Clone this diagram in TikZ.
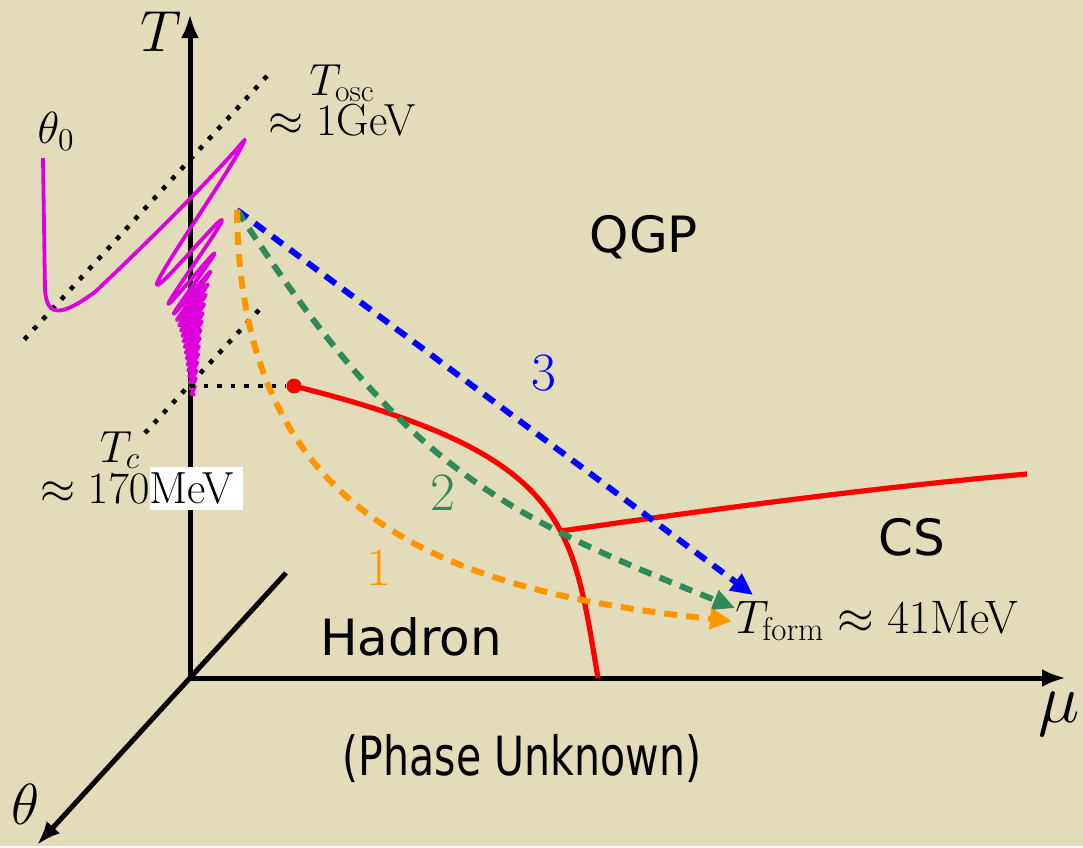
\RequirePackage{fix-cm}
\documentclass[tikz,border=0pt]{standalone}
\usepackage{fontspec}
\usepackage{graphicx}
\newfontfamily\labelfont{DejaVu Sans}
\usetikzlibrary{arrows.meta,positioning}
\definecolor{bgbeige}{RGB}{226,220,186}
\definecolor{axionmag}{RGB}{221,0,221}
\definecolor{routeorange}{RGB}{255,150,0}
\definecolor{routegreen}{RGB}{46,139,87}

\begin{document}
\begin{tikzpicture}[x=0.5pt,y=-0.5pt,
axis/.style={line width=2.5pt},
guide/.style={line width=2.3pt,dash pattern=on 2.3pt off 4.5pt},
route/.style={line width=3pt,dash pattern=on 6.5pt off 4.5pt,-{Triangle[length=11pt,width=10pt]}},
phase line/.style={red,line width=2.6pt},
region label/.style={font=\labelfont\fontsize{25}{30}\selectfont,inner sep=0pt},
value label/.style={font=\fontsize{22.5}{20}\selectfont,align=center,inner sep=0pt},
route label/.style={font=\fontsize{27}{30}\selectfont,inner sep=0pt},
axis label/.style={font=\fontsize{29}{32}\selectfont,inner sep=0pt},
declare function={amp(\s)=36*pow(\s,-0.5)*pow((17.6-\s)/16.6,0.6);
  drift(\s)=207+70*(1-exp(0.5-\s))+7*(\s-0.5);}]
\fill[bgbeige] (0,0) rectangle (1083,846);

% axes
\coordinate (O) at (190,678);
\coordinate (Ttip) at (190,14);
\coordinate (mutip) at (1066,678);
\coordinate (thback) at (286,573);
\coordinate (thtip) at (37,845);

% temperature guides
\coordinate (osc a) at (267,76);
\coordinate (osc b) at (22,342);
\coordinate (c a) at (259,310);
\coordinate (c b) at (145,433);
\coordinate (Tc) at (190,386);
\draw[guide] (osc a) -- (osc b);
\draw[guide] (c a) -- (c b);

\draw[axis,{Latex[length=12pt,width=9pt]}-{Latex[length=12pt,width=9pt]}] (Ttip) -- (O) -- (mutip);
\draw[axis,-{Latex[length=12pt,width=9pt]}] (thback) -- (thtip);

% theta(T)
\draw[axionmag,line width=1.9pt,line join=round] (43,158) -- (45,290)
  .. controls (47,318) and (62,316) .. (95,292)
  .. controls (150,240) and (210,180) .. (244.8,139.7)
  -- plot[domain=0.5:17.55,samples=600,variable=\s]
  ({193-amp(\s)*cos(360*\s)},{drift(\s)+1.3*amp(\s)*cos(360*\s)});

% phase boundaries
\node[circle,fill=red,inner sep=0pt,minimum size=7.5pt] (cep) at (294,386) {};
\draw[guide] (Tc) -- (cep);
\coordinate (tri) at (561,531);
\coordinate (cfl) at (1027,474);
\coordinate (mu0) at (598,678);
\draw[phase line] (cep.center) .. controls (570,455) and (572,524) .. (mu0);
\draw[phase line] (tri) .. controls (720,508) and (880,487) .. (cfl);

% cooling paths
\coordinate (src) at (237,210);
\coordinate (end3) at (753,595);
\coordinate (end2) at (735,608);
\coordinate (end1) at (732,621);
\draw[route,blue] (src) -- (end3);
\draw[route,routegreen] (src) .. controls (403,467) and (500,514) .. (end2);
\draw[route,routeorange] (src) .. controls (240,510) and (432,590) .. (end1);

% labels
\node[axis label] (Tlab) at (161,32) {$T$};
\node[axis label] (thlab) at (26,804) {$\theta$};
\node[axis label,font=\fontsize{35}{38}\selectfont] (mulab) at (1059,714) {$\mu$};
\node[value label] (th0) at (56,131) {$\theta_0$};
\node[value label] (tosc) at (342,100) {$T_{\rm osc}$\\$\approx 1$GeV};
\fill[white] (150,467) rectangle (243,510);
\node[value label,anchor=base] (tc) at (120,462) {$T_c$};
\node[value label,anchor=base] (tcval) at (137,503) {$\approx 170$MeV};
\node[value label,anchor=base west,font=\fontsize{23.5}{20}\selectfont] (tform) at (735,633) {$T_{\rm form}\approx 41$MeV};

\node[region label,anchor=base] (qgp) at (644,252) {QGP};
\node[region label,anchor=base] (cs) at (912,555) {CS};
\node[region label,anchor=base] (hadron) at (411,655) {Hadron};
\node[region label,anchor=base] (unknown) at (522,775) {\scalebox{0.76}[1]{\fontsize{27}{30}\selectfont (Phase Unknown)}};

\node[route label,anchor=base,blue] (n3) at (544,390) {3};
\node[route label,anchor=base,routegreen] (n2) at (443,510) {2};
\node[route label,anchor=base,routeorange] (n1) at (379,585) {1};
\end{tikzpicture}
\end{document}
